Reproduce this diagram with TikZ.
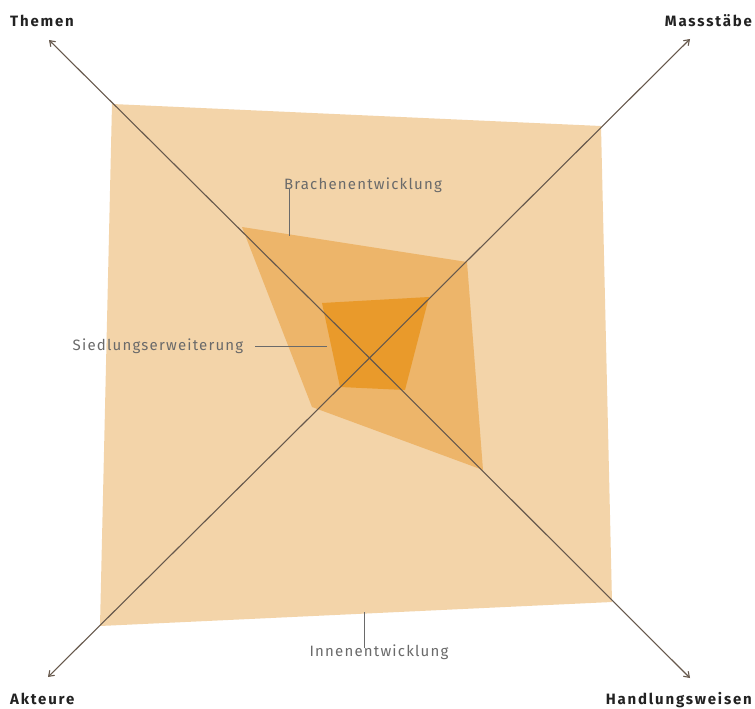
\documentclass[tikz,border=0pt]{standalone}
\usepackage{fontspec}
\setmainfont{Fira Sans}
\usetikzlibrary{arrows.meta}
\definecolor{outerc}{HTML}{F3D4A9}
\definecolor{midc}{HTML}{EDB56A}
\definecolor{innerc}{HTML}{E99A2B}
\definecolor{axisc}{HTML}{66584C}
\definecolor{labc}{HTML}{6A6A6A}
\definecolor{headc}{HTML}{222222}
\tikzset{
  axis/.style={draw=axisc, line width=1.1pt, -{Straight Barb[length=5pt,width=7pt]}},
  head/.style={inner sep=0pt, font=\fontsize{15}{17}\selectfont\bfseries\addfontfeatures{LetterSpace=12}, text=headc},
  lab/.style={inner sep=0pt, font=\fontsize{15}{17}\selectfont\addfontfeatures{LetterSpace=8}, text=labc},
  leader/.style={draw=labc, line width=0.7pt}
}
\begin{document}
\begin{tikzpicture}[x=1pt,y=-1pt]
\useasboundingbox (0,0) rectangle (755,709);
\fill[white] (0,0) rectangle (755,709);
% polygons
\fill[outerc] (112,104) -- (601,126) -- (612,602) -- (100,626) -- cycle;
\fill[midc] (242,227) -- (467,262) -- (483,470) -- (312,407) -- cycle;
\fill[innerc] (322,303) -- (429,297) -- (405,390) -- (340,387) -- cycle;
% axes
\coordinate (c) at (369.5,358);
\coordinate (tl) at (49,40);
\coordinate (tr) at (690,39);
\coordinate (bl) at (48,677);
\coordinate (br) at (690,678);
\draw[axis] (c) -- (tl);
\draw[axis] (c) -- (tr);
\draw[axis] (c) -- (bl);
\draw[axis] (c) -- (br);
% corner labels
\node[head, anchor=west] (themen) at (10,21) {Themen};
\node[head, anchor=east] (mass) at (752,21) {Massstäbe};
\node[head, anchor=base west] (akt) at (10,704) {Akteure};
\node[head, anchor=base east] (hand) at (752,704) {Handlungsweisen};
% inner labels
\node[lab] (brach) at (363,185) {Brachenentwicklung};
\node[lab] (sied) at (158,346) {Siedlungserweiterung};
\node[lab] (innen) at (379,652) {Innenentwicklung};
% leaders
\coordinate (bend) at (289,236);
\coordinate (send) at (327,346);
\coordinate (iend) at (364,612);
\draw[leader] ([yshift=4pt]bend |- brach.south) -- (bend);
\draw[leader] ([xshift=12pt]sied.east) -- (send);
\draw[leader] ([yshift=-4pt]iend |- innen.north) -- (iend);
\end{tikzpicture}
\end{document}
